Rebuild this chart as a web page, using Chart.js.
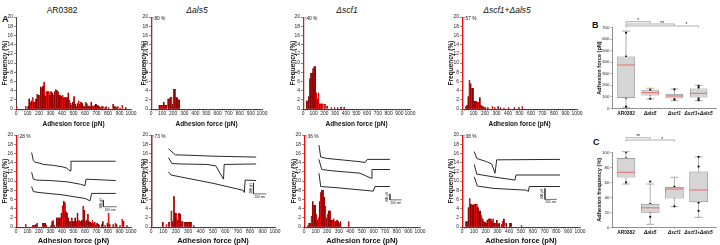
<!DOCTYPE html>
<html>
<head>
<meta charset="utf-8">
<script src="https://cdn.jsdelivr.net/npm/chart.js@4.4.1/dist/chart.umd.min.js"></script>
<style>
  body { margin: 0; width: 720px; height: 245px; background: #fff; position: relative; overflow: hidden;
         font-family: "Liberation Sans", Arial, sans-serif; color: #111; }
  canvas { position: absolute; }
  .t { position: absolute; white-space: nowrap; transform: translateX(-50%); font-size: 8.5px; line-height: 1; }
  .pl { position: absolute; font-weight: bold; font-size: 9px; line-height: 1; }
  i { font-style: italic; }
</style>
</head>
<body>
<div class="pl" style="left:2px;top:15px">A</div>
<div class="pl" style="left:592px;top:21px">B</div>
<div class="pl" style="left:593px;top:138px">C</div>
<div class="t" style="left:62px;top:6px">AR0382</div>
<div class="t" style="left:197px;top:6px"><i>Δals5</i></div>
<div class="t" style="left:347px;top:6px"><i>Δscf1</i></div>
<div class="t" style="left:507px;top:6px"><i>Δscf1+Δals5</i></div>

<script>
// histogram bins: [bin start (pN), frequency (%)], 10 pN bins
var binsAR0382Top = [[0,0.5],[80,0.5],[100,0.5],[110,2.2],[120,1.4],[130,1.8],[140,2.5],[150,1.5],[160,1.5],[170,2.2],[180,3.2],[190,3.0],[200,3.0],[210,4.8],[220,4.5],[230,5.0],[240,5.8],[250,2.8],[260,3.8],[270,3.8],[280,3.8],[290,3.0],[300,3.8],[310,3.5],[320,3.0],[330,3.8],[340,4.2],[350,4.0],[360,3.8],[370,3.0],[380,3.0],[390,2.8],[400,3.0],[410,2.5],[420,2.5],[430,2.5],[440,2.5],[450,3.5],[460,2.0],[470,1.3],[480,0.8],[490,1.5],[500,2.7],[510,1.0],[520,0.5],[530,1.2],[540,1.8],[550,1.0],[560,1.5],[570,1.3],[580,0.7],[590,0.5],[600,1.5],[610,1.2],[620,0.7],[630,0.5],[640,0.5],[650,1.5],[660,0.7],[670,0.5],[680,0.8],[690,1.0],[700,0.8],[710,0.7],[720,0.5],[730,0.3],[740,0.5],[750,0.5],[770,0.3],[780,0.5],[800,0.3],[840,1.0],[850,0.5],[860,0.5],[870,0.3],[880,0.5],[900,0.2],[920,0.8],[950,0.3]];
var binsAls5Top = [[0,80],[70,0.8],[80,0.8],[90,0.8],[100,0.8],[110,1.5],[120,0.8],[130,0.8],[150,2.2],[160,2.2],[170,2.6],[180,2.6],[190,1.0],[200,4.3],[210,4.3],[220,2.5],[230,2.5],[240,2.0],[250,2.0]];
var binsScf1Top = [[0,40],[30,1.8],[40,1.8],[50,2.7],[60,6.6],[70,7.8],[80,7.8],[90,8.8],[100,9.2],[110,9.2],[120,3.5],[130,2.2],[140,3.5],[150,1.1],[160,1.1],[170,1.1],[180,1.1],[200,1.0],[220,0.6],[260,0.3],[290,0.3],[320,0.3],[350,0.4],[380,0.4]];
var binsBothTop = [[0,57],[30,0.5],[40,0.8],[50,2.7],[60,6.3],[70,5.5],[80,4.5],[90,4.5],[100,1.7],[110,1.7],[120,1.7],[130,1.5],[140,1.5],[150,2.5],[160,0.8],[170,0.5],[180,0.5],[190,0.3],[200,0.3],[220,0.3],[260,0.5],[280,0.3],[310,0.5],[330,0.3],[360,0.2],[400,0.3],[450,0.3],[490,0.3],[520,0.5]];
var binsAR0382Bot = [[0,28],[80,0.5],[140,0.3],[150,0.4],[160,0.4],[170,0.5],[180,0.8],[230,0.8],[240,0.8],[250,0.8],[260,0.4],[300,0.3],[310,1.2],[320,1.5],[330,0.3],[350,2.0],[360,2.0],[370,2.0],[380,2.0],[390,3.0],[400,4.6],[410,5.6],[420,5.3],[430,3.3],[440,3.0],[450,2.0],[460,1.2],[470,1.2],[480,2.0],[490,1.2],[500,1.2],[510,2.0],[520,1.2],[530,3.0],[540,1.5],[550,1.2],[560,1.2],[570,1.5],[580,4.5],[590,3.6],[600,1.2],[610,1.5],[620,2.8],[630,1.2],[640,1.0],[650,0.8],[660,1.4],[670,0.8],[680,1.0],[690,0.3],[700,0.8],[710,0.6],[720,0.4],[740,0.5],[750,1.2],[770,0.3],[790,0.8],[800,3.0],[810,0.5],[840,0.5],[860,0.8],[870,0.5],[900,0.3],[920,1.7],[930,1.3],[960,0.3]];
var binsAls5Bot = [[0,73],[90,1.0],[120,0.5],[140,1.0],[160,3.5],[170,1.2],[180,6.6],[190,3.0],[200,3.0],[210,1.5],[220,3.0],[230,2.8],[240,1.2],[250,1.2],[270,1.0],[280,1.0],[290,1.0],[300,1.0],[310,1.0],[320,1.0],[340,0.3]];
var binsScf1Bot = [[0,36],[30,0.3],[40,0.8],[50,0.8],[60,2.3],[70,5.5],[80,4.7],[90,4.7],[100,2.8],[110,1.5],[120,2.0],[130,5.5],[140,7.5],[150,8.0],[160,8.0],[170,6.5],[180,4.5],[190,2.0],[200,2.8],[210,3.5],[220,3.5],[230,1.5],[240,1.5],[250,1.8],[260,1.2],[270,1.2],[280,1.5],[290,1.2],[300,0.8],[310,1.2],[380,1.2]];
var binsBothBot = [[0,38],[30,1.2],[40,1.2],[50,4.2],[60,6.2],[70,5.0],[80,4.8],[90,4.8],[100,5.0],[110,5.0],[120,5.0],[130,4.2],[140,3.5],[150,3.5],[160,2.5],[170,1.8],[180,1.2],[190,1.0],[200,0.8],[210,1.5],[220,1.8],[230,1.8],[240,1.8],[250,1.2],[260,1.8],[270,0.8],[280,0.8],[290,1.5],[300,0.5],[310,0.8],[330,0.5],[340,1.2],[350,1.8],[370,0.8],[400,0.8],[410,0.8],[500,0.3]];

// inset force curves, in the histogram's own units [pN, %]
var curvesAR0382 = [
  [[136,16.2],[151,14.4],[165,14.1],[200,13.9],[238,13.6],[280,13.5],[325,13.4],[400,13.1],[441,12.8],[470,12.2],[478,14.3],[867,14.3]],
  [[136,11.9],[151,10.4],[180,10.2],[300,10.1],[450,9.8],[560,9.3],[600,9.0],[609,10.4],[867,10.1]],
  [[136,8.8],[151,7.7],[200,7.5],[400,7.0],[600,6.2],[643,5.7],[658,7.3],[867,7.3]]
];
var curvesAls5 = [
  [[141,17.0],[179,16.1],[196,15.7],[500,15.4],[848,15.2]],
  [[141,15.1],[169,13.8],[237,13.7],[450,13.6],[522,13.3],[585,10.4],[590,13.6],[848,13.7]],
  [[141,12.0],[161,11.3],[237,10.9],[500,9.5],[740,8.0],[753,7.5],[759,10.2],[848,10.1]]
];
var curvesScf1 = [
  [[129,17.8],[144,15.2],[200,14.9],[483,14.2],[526,14.0],[546,14.7],[741,14.7]],
  [[129,14.7],[153,12.5],[250,12.2],[483,11.7],[578,10.6],[586,12.5],[741,12.5]],
  [[129,11.7],[144,8.8],[300,8.5],[597,7.8],[612,8.8],[741,8.8]]
];
var curvesBoth = [
  [[104,16.4],[125,14.9],[209,14.2],[252,13.7],[280,11.7],[294,14.6],[831,14.7]],
  [[104,13.6],[125,11.5],[265,10.9],[449,10.2],[458,11.3],[831,11.3]],
  [[104,10.9],[130,8.9],[265,8.4],[548,8.0],[562,7.7],[570,8.8],[831,8.8]]
];
// scale bars [pN, %] : vertical top, corner, horizontal end
var barAR0382 = [[759,5.9],[759,4.4],[876,4.4]];
var barAls5 = [[826,9.6],[826,7.2],[930,7.2]];
var barScf1 = [[741,7.2],[741,5.9],[842,5.9]];
var barBoth = [[703,8.4],[703,6.0],[803,6.0]];

// panels B and C
var groups = ['AR0382', 'Δals5', 'Δscf1', 'Δscf1+Δals5'];
var forceLow = [9, 81, 66, 66];
var forceQ1 = [92, 113, 87, 96];
var forceMed = [376, 136, 107, 130];
var forceQ3 = [448, 153, 122, 170];
var forceHigh = [671, 174, 168, 200];
var forceMean = [335, 128, 100, 125];
var forcePoints = [[656, 448, 431, 318, 92, 14], [160, 140, 135, 120, 83], [165, 110, 100, 95, 90, 75], [195, 180, 150, 140, 120, 100, 80, 70]];
var freqLow = [57.7, 4, 27.5, 13.3];
var freqQ1 = [66.7, 20, 38.7, 34];
var freqMed = [73.3, 26, 51, 49.7];
var freqQ3 = [92, 31, 53.3, 74];
var freqHigh = [100.8, 57.7, 66.7, 94];
var freqMean = [79.5, 30, 47, 54];
var freqPoints = [[100, 92, 90, 74, 72, 60], [61, 31, 27, 21, 14], [54, 51, 40, 28], [94, 81, 70, 64, 34, 33, 22]];
var sigForceFrom = [1, 1, 1], sigForceTo = [2, 3, 4], sigForceY = [752, 732, 715], sigForceText = ['*', '**', '*'];
var sigFreqFrom = [1, 1], sigFreqTo = [2, 3], sigFreqY = [119.5, 116.4], sigFreqText = ['**', '*'];

var RED = '#ee1010', DARK = '#a00000';
var FONT = '"Liberation Sans", Arial, sans-serif';
Chart.defaults.font.family = FONT;
Chart.defaults.color = '#111';

function addCanvas(left, top, w, h) {
  var cv = document.createElement('canvas');
  cv.width = w; cv.height = h;
  cv.style.left = left + 'px'; cv.style.top = top + 'px';
  cv.style.width = w + 'px'; cv.style.height = h + 'px';
  document.body.appendChild(cv);
  return cv;
}

var overflowPlugin = {
  id: 'overflow',
  afterDatasetsDraw: function(chart) {
    var v = chart.data.datasets[0].data[0].y;
    if (v <= chart.scales.y.max) return;
    var bar = chart.getDatasetMeta(0).data[0];
    var ctx = chart.ctx;
    ctx.save();
    ctx.fillStyle = '#111';
    ctx.font = '4.8px ' + FONT;
    ctx.textBaseline = 'top';
    ctx.fillText('↑' + v + ' %', bar.x + 0.5, chart.chartArea.top - 1);
    ctx.restore();
  }
};

var scaleBarPlugin = {
  id: 'scalebarText',
  afterDatasetsDraw: function(chart) {
    var sb = chart.options.plugins.scalebarText.bar;
    if (!sb) return;
    var x = chart.scales.x, y = chart.scales.y, ctx = chart.ctx;
    var px = x.getPixelForValue(sb[1][0]), py = y.getPixelForValue(sb[1][1]);
    var pyTop = y.getPixelForValue(sb[0][1]);
    var pxEnd = x.getPixelForValue(sb[2][0]);
    ctx.save();
    ctx.fillStyle = '#111';
    ctx.font = '3.2px ' + FONT;
    ctx.textAlign = 'center';
    ctx.fillText('200 nm', (px + pxEnd) / 2, py + 4);
    ctx.translate(px - 1.5, (py + pyTop) / 2);
    ctx.rotate(-Math.PI / 2);
    ctx.fillText('200 pN', 0, 0);
    ctx.restore();
  }
};

function makeHist(p) {
  var padTop = 8, padRight = 10;
  var w = (p.right - p.left) + p.yw + padRight;
  var h = (p.bottom - p.top) + padTop + p.xh;
  var cv = addCanvas(p.left - p.yw, p.top - padTop, w, h);
  var datasets = [{
    type: 'bar',
    data: p.bins.map(function(b) { return { x: b[0] + 5, y: b[1] }; }),
    backgroundColor: p.bins.map(function(b) { return (b[0] / 10) % 2 ? DARK : RED; }),
    borderColor: '#500000',
    borderWidth: 0.25,
    barPercentage: 1,
    categoryPercentage: 1
  }];
  (p.curves || []).forEach(function(c) {
    datasets.push({
      type: 'line',
      data: c.map(function(q) { return { x: q[0], y: q[1] }; }),
      borderColor: '#111', borderWidth: 0.9, pointRadius: 0, tension: 0, clip: false
    });
  });
  if (p.bar) {
    datasets.push({
      type: 'line',
      data: p.bar.map(function(q) { return { x: q[0], y: q[1] }; }),
      borderColor: '#111', borderWidth: 0.6, pointRadius: 0, tension: 0, clip: false
    });
  }
  new Chart(cv, {
    type: 'bar',
    data: { datasets: datasets },
    plugins: [overflowPlugin, scaleBarPlugin],
    options: {
      responsive: false, animation: false, devicePixelRatio: 1,
      layout: { padding: { top: padTop, right: padRight, left: 0, bottom: 0 } },
      plugins: { legend: { display: false }, tooltip: { enabled: false }, scalebarText: { bar: p.bar } },
      scales: {
        x: {
          type: 'linear', min: 0, max: 1000, offset: false,
          ticks: { stepSize: 20, autoSkip: false, maxRotation: 0, padding: 0.5,
                   font: { size: 4.9 }, color: '#222',
                   callback: function(v) { return v % 100 === 0 ? v : ''; } },
          grid: { offset: false, drawOnChartArea: false, tickLength: 1.5, color: '#111', lineWidth: 0.5 },
          border: { color: '#111', width: 0.8 },
          title: { display: true, text: 'Adhesion force (pN)', font: { size: p.titleSize, weight: 'bold' },
                   padding: { top: 0, bottom: 0 }, color: '#111' },
          afterFit: function(s) { s.height = p.xh; }
        },
        y: {
          min: 0, max: 20,
          ticks: { stepSize: 2, padding: 1, font: { size: 4.9 }, color: '#222' },
          grid: { drawOnChartArea: false, tickLength: 2, color: '#111', lineWidth: 0.5 },
          border: { color: '#111', width: 0.8 },
          title: { display: true, text: 'Frequency (%)', font: { size: 6.5, weight: 'bold' },
                   padding: 0, color: '#111' },
          afterFit: function(s) { s.width = p.yw; }
        }
      }
    }
  });
}

var histPanels = [
  { bins: binsAR0382Top, left: 16, right: 131, top: 17, bottom: 109, yw: 15, xh: 19, titleSize: 6.5 },
  { bins: binsAls5Top, left: 151, right: 262, top: 17, bottom: 109, yw: 11, xh: 19, titleSize: 6.5 },
  { bins: binsScf1Top, left: 303, right: 410, top: 17, bottom: 109, yw: 14, xh: 19, titleSize: 6.5 },
  { bins: binsBothTop, left: 462, right: 577, top: 17, bottom: 109, yw: 15, xh: 19, titleSize: 6.5 },
  { bins: binsAR0382Bot, left: 16, right: 131, top: 135, bottom: 227, yw: 15, xh: 18, titleSize: 7.5, curves: curvesAR0382, bar: barAR0382 },
  { bins: binsAls5Bot, left: 151, right: 275, top: 135, bottom: 227, yw: 11, xh: 18, titleSize: 7.5, curves: curvesAls5, bar: barAls5 },
  { bins: binsScf1Bot, left: 304, right: 420, top: 135, bottom: 227, yw: 14, xh: 18, titleSize: 7.5, curves: curvesScf1, bar: barScf1 },
  { bins: binsBothBot, left: 462, right: 580, top: 135, bottom: 227, yw: 15, xh: 18, titleSize: 7.5, curves: curvesBoth, bar: barBoth }
];
histPanels.forEach(makeHist);

// box plots
var boxPlugin = {
  id: 'boxParts',
  beforeDatasetsDraw: function(chart) {
    var o = chart.options.plugins.boxParts, x = chart.scales.x, y = chart.scales.y, ctx = chart.ctx;
    ctx.save();
    ctx.strokeStyle = '#888'; ctx.lineWidth = 0.7;
    o.low.forEach(function(lo, i) {
      var cx = x.getPixelForValue(i + 1);
      var pts = [[lo, o.q1[i]], [o.q3[i], o.high[i]]];
      pts.forEach(function(seg) {
        ctx.beginPath(); ctx.moveTo(cx, y.getPixelForValue(seg[0])); ctx.lineTo(cx, y.getPixelForValue(seg[1])); ctx.stroke();
      });
      [lo, o.high[i]].forEach(function(v) {
        var py = y.getPixelForValue(v);
        ctx.beginPath(); ctx.moveTo(cx - 4, py); ctx.lineTo(cx + 4, py); ctx.stroke();
      });
    });
    ctx.restore();
  },
  afterDatasetDraw: function(chart, args) {
    if (args.index !== 0) return;
    var o = chart.options.plugins.boxParts, x = chart.scales.x, y = chart.scales.y, ctx = chart.ctx;
    var half = o.width / 2;
    ctx.save();
    ctx.strokeStyle = '#f05050'; ctx.lineWidth = 0.8;
    o.med.forEach(function(m, i) {
      var cx = x.getPixelForValue(i + 1), py = y.getPixelForValue(m);
      ctx.beginPath(); ctx.moveTo(cx - half, py); ctx.lineTo(cx + half, py); ctx.stroke();
    });
    ctx.restore();
  },
  afterDraw: function(chart) {
    var o = chart.options.plugins.boxParts, x = chart.scales.x, y = chart.scales.y, ctx = chart.ctx;
    ctx.save();
    ctx.strokeStyle = '#777'; ctx.lineWidth = 0.6; ctx.fillStyle = '#222';
    ctx.font = '5px ' + FONT; ctx.textAlign = 'center';
    o.sigFrom.forEach(function(f, i) {
      var x0 = x.getPixelForValue(f), x1 = x.getPixelForValue(o.sigTo[i]), py = y.getPixelForValue(o.sigY[i]);
      ctx.beginPath();
      ctx.moveTo(x0, py + 1.5); ctx.lineTo(x0, py); ctx.lineTo(x1, py); ctx.lineTo(x1, py + 1.5);
      ctx.stroke();
      ctx.fillText(o.sigText[i], x.getPixelForValue(o.sigTo[i] - 0.5), py + 0.5);
    });
    ctx.restore();
  }
};

function makeBox(p) {
  var cv = addCanvas(p.cleft, p.ctop, p.cw, p.ch);
  var points = [];
  p.points.forEach(function(arr, i) { arr.forEach(function(v) { points.push({ x: i + 1, y: v }); }); });
  new Chart(cv, {
    type: 'bar',
    data: {
      datasets: [
        { type: 'bar', data: p.q1.map(function(q, i) { return { x: i + 1, y: [q, p.q3[i]] }; }),
          backgroundColor: '#d5d5d5', borderColor: '#8c8c8c', borderWidth: 0.7, borderSkipped: false,
          barThickness: p.boxW },
        { type: 'line', data: points, showLine: false, pointRadius: 1.1, pointBackgroundColor: '#111',
          pointBorderWidth: 0, pointStyle: 'circle' },
        { type: 'line', data: p.mean.map(function(m, i) { return { x: i + 1, y: m }; }), showLine: false,
          pointRadius: 1.6, pointBackgroundColor: '#f02020', pointBorderWidth: 0, pointStyle: 'rect' }
      ]
    },
    plugins: [boxPlugin],
    options: {
      responsive: false, animation: false, devicePixelRatio: 1,
      layout: { padding: { top: p.padTop, right: p.padRight, left: 0, bottom: 0 } },
      plugins: {
        legend: { display: false }, tooltip: { enabled: false },
        boxParts: { low: p.low, q1: p.q1, med: p.med, q3: p.q3, high: p.high, width: p.boxW,
                    sigFrom: p.sigFrom, sigTo: p.sigTo, sigY: p.sigY, sigText: p.sigText }
      },
      scales: {
        x: {
          type: 'linear', min: 0.42, max: 4.72, offset: false,
          afterBuildTicks: function(s) { s.ticks = groups.map(function(g, i) { return { value: i + 1 }; }); },
          ticks: { autoSkip: false, maxRotation: 0, padding: 1, color: '#111',
                   callback: function(v) { return groups[v - 1]; },
                   font: function(c) { return { size: 4.8, weight: 'bold', style: c.index > 0 ? 'italic' : 'normal' }; } },
          grid: { offset: false, drawOnChartArea: false, tickLength: 1.5, color: '#555', lineWidth: 0.5 },
          border: { color: '#444', width: 0.6 },
          afterFit: function(s) { s.height = p.xh; }
        },
        y: {
          min: 0, max: p.ymax,
          ticks: { stepSize: p.step, padding: 1, font: { size: 4.4 }, color: '#222' },
          grid: { drawOnChartArea: false, tickLength: 1.5, color: '#555', lineWidth: 0.5 },
          border: { color: '#444', width: 0.6 },
          title: { display: true, text: p.title, font: { size: 5.6, weight: 'bold' }, padding: 0, color: '#111' },
          afterFit: function(s) { s.width = p.yw; }
        }
      }
    }
  });
}

makeBox({ cleft: 596, ctop: 12, cw: 124, ch: 111, yw: 16, padTop: 15.7, padRight: 3, xh: 14.7,
          ymax: 700, step: 100, title: 'Adhesion force (pN)', boxW: 17,
          low: forceLow, q1: forceQ1, med: forceMed, q3: forceQ3, high: forceHigh, mean: forceMean, points: forcePoints,
          sigFrom: sigForceFrom, sigTo: sigForceTo, sigY: sigForceY, sigText: sigForceText });
makeBox({ cleft: 596, ctop: 128, cw: 124, ch: 117, yw: 16, padTop: 24.3, padRight: 3, xh: 17.7,
          ymax: 100, step: 10, title: 'Adhesion frequency (%)', boxW: 18,
          low: freqLow, q1: freqQ1, med: freqMed, q3: freqQ3, high: freqHigh, mean: freqMean, points: freqPoints,
          sigFrom: sigFreqFrom, sigTo: sigFreqTo, sigY: sigFreqY, sigText: sigFreqText });
</script>
</body>
</html>
